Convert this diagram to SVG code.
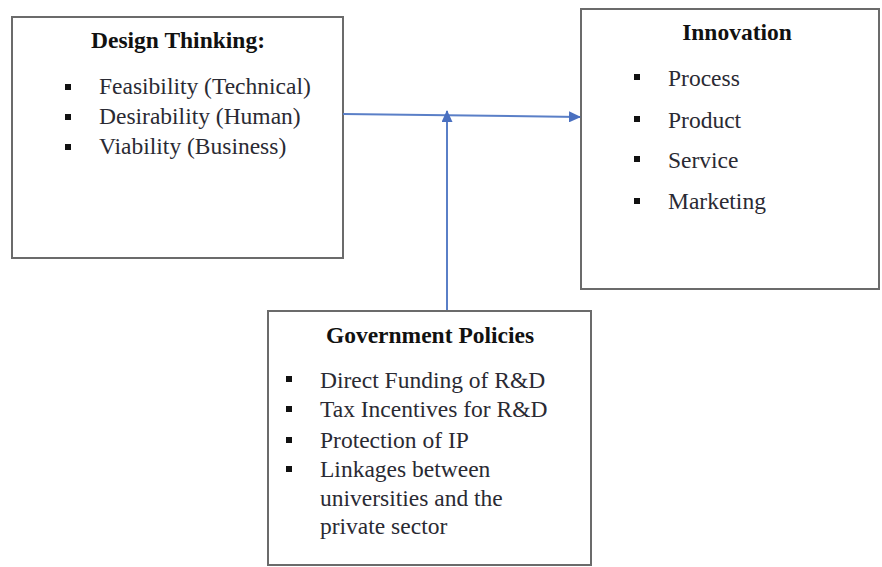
<svg xmlns="http://www.w3.org/2000/svg" width="882" height="567" viewBox="0 0 882 567">
<style>
.box{fill:#fff;stroke:#6b6b6b;stroke-width:2}
.t{font-family:"Liberation Serif","Times New Roman",serif;font-size:23.5px;fill:#2a2a33}
.h{font-family:"Liberation Serif","Times New Roman",serif;font-size:23.5px;font-weight:bold;fill:#111;text-anchor:middle}
.b{fill:#111}
.c{stroke:#5a7fc7;stroke-width:2;fill:none}
</style>
<defs>
<marker id="ah" markerWidth="12" markerHeight="11" refX="11" refY="5.5" orient="auto" markerUnits="userSpaceOnUse">
<path d="M0,0 L12,5.5 L0,11 Z" fill="#4a70c0"/>
</marker>
</defs>
<rect width="882" height="567" fill="#fff"/>
<g id="design">
<rect class="box" x="12" y="17" width="331" height="241"/>
<text class="h" x="178" y="48">Design Thinking:</text>
<rect class="b" x="65" y="84" width="6" height="6"/>
<rect class="b" x="65" y="114" width="6" height="6"/>
<rect class="b" x="65" y="144" width="6" height="6"/>
<text class="t" x="99" y="94">Feasibility (Technical)</text>
<text class="t" x="99" y="124">Desirability (Human)</text>
<text class="t" x="99" y="154">Viability (Business)</text>
</g>
<g id="innovation">
<rect class="box" x="581" y="9" width="298" height="280"/>
<text class="h" x="737" y="40">Innovation</text>
<rect class="b" x="634" y="74" width="6" height="6"/>
<rect class="b" x="634" y="116" width="6" height="6"/>
<rect class="b" x="634" y="156" width="6" height="6"/>
<rect class="b" x="634" y="198" width="6" height="6"/>
<text class="t" x="668" y="86">Process</text>
<text class="t" x="668" y="128">Product</text>
<text class="t" x="668" y="168">Service</text>
<text class="t" x="668" y="209">Marketing</text>
</g>
<g id="government">
<rect class="box" x="268" y="311" width="323" height="254"/>
<text class="h" x="430" y="343">Government Policies</text>
<rect class="b" x="286" y="376" width="6" height="6"/>
<rect class="b" x="286" y="406" width="6" height="6"/>
<rect class="b" x="286" y="437" width="6" height="6"/>
<rect class="b" x="286" y="466" width="6" height="6"/>
<text class="t" x="320" y="388">Direct Funding of R&amp;D</text>
<text class="t" x="320" y="417">Tax Incentives for R&amp;D</text>
<text class="t" x="320" y="448">Protection of IP</text>
<text class="t" x="320" y="477">Linkages between</text>
<text class="t" x="320" y="506">universities and the</text>
<text class="t" x="320" y="534">private sector</text>
</g>
<g id="connectors">
<line class="c" x1="343" y1="114" x2="580" y2="117" marker-end="url(#ah)"/>
<line class="c" x1="447" y1="310" x2="447" y2="111" marker-end="url(#ah)"/>
</g>
</svg>
